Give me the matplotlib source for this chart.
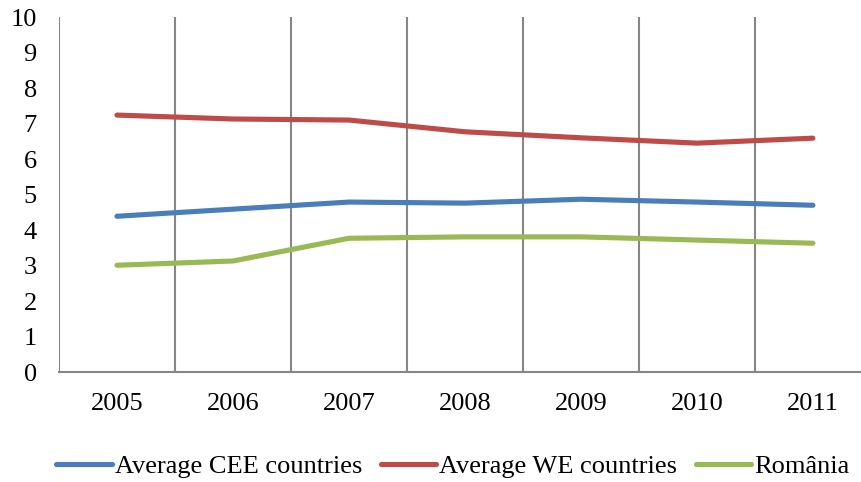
import matplotlib.pyplot as plt

years = ['2005', '2006', '2007', '2008', '2009', '2010', '2011']
cee = [4.39, 4.59, 4.79, 4.76, 4.87, 4.79, 4.70]
we = [7.24, 7.13, 7.10, 6.77, 6.60, 6.45, 6.59]
romania = [3.01, 3.13, 3.77, 3.81, 3.81, 3.72, 3.63]

plt.rcParams['font.family'] = ['Liberation Serif', 'DejaVu Serif']

fig = plt.figure(figsize=(8.61, 4.82), dpi=100)
# plot area runs past the right edge of the picture (cropped original)
ax = fig.add_axes([0.0685, 0.228, 0.943, 0.7365])

x = range(len(years))
ax.plot(x, cee, color='#4A7EBB', lw=3.7, solid_capstyle='round', label='Average CEE countries')
ax.plot(x, we, color='#BE4B48', lw=3.7, solid_capstyle='round', label='Average WE countries')
ax.plot(x, romania, color='#98B954', lw=3.7, solid_capstyle='round', label='România')

ax.set_xlim(-0.5, len(years) - 0.5)
ax.set_ylim(0, 10)
ax.set_yticks(range(0, 11))
ax.set_xticks(list(x))
ax.set_xticklabels(years)
ax.set_xticks([i - 0.5 for i in range(len(years) + 1)], minor=True)
ax.grid(True, which='minor', axis='x', color='#868686', lw=1.5)
ax.tick_params(which='both', length=0, labelsize=19, colors='black')
ax.tick_params(axis='y', pad=16)
ax.tick_params(axis='x', pad=15)

for s in ['top', 'right', 'left']:
    ax.spines[s].set_visible(False)
ax.spines['bottom'].set_color('#868686')
ax.spines['bottom'].set_linewidth(1.5)

fig.legend(loc='center', bbox_to_anchor=(0.526, 0.033), ncol=3, frameon=False,
           fontsize=19, handlelength=2.1, handletextpad=0.12, columnspacing=0.7)

fig.savefig('out.png', dpi=100)
